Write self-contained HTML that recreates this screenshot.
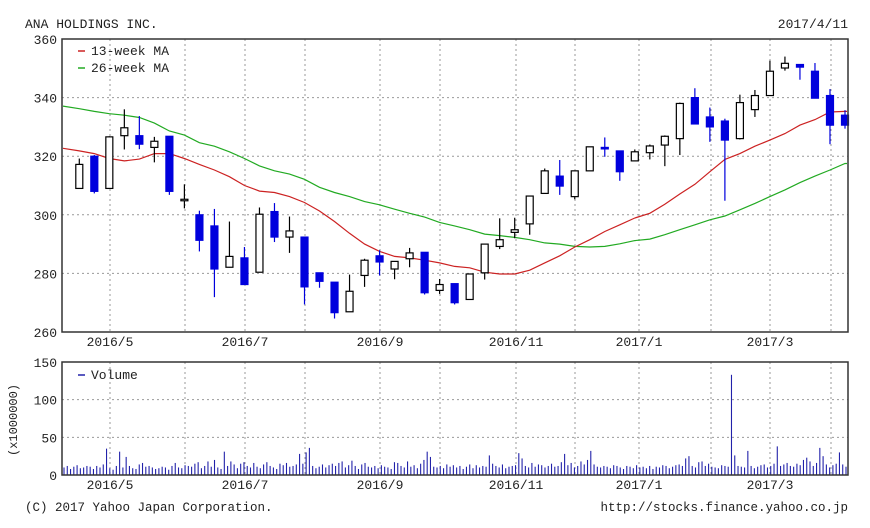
<!DOCTYPE html>
<html><head><meta charset="utf-8">
<style>
html,body{margin:0;padding:0;background:#fff;}
svg{display:block;font-family:"Liberation Mono","DejaVu Sans Mono",monospace;}
</style></head>
<body>
<svg id="chart" width="870" height="528" viewBox="0 0 870 528" xmlns="http://www.w3.org/2000/svg">
<rect width="870" height="528" fill="#fff"/>
<text x="25" y="28" font-size="13" fill="#222">ANA HOLDINGS INC.</text>
<text x="848" y="28" font-size="13" fill="#222" text-anchor="end">2017/4/11</text>
<g id="price"></g>
<g id="vol"></g>
<text transform="translate(17,420) rotate(-90)" font-size="12" fill="#222" text-anchor="middle">(x1000000)</text>
<text x="25" y="511" font-size="12.5" fill="#222">(C) 2017 Yahoo Japan Corporation.</text>
<text x="848" y="511" font-size="12.5" fill="#222" text-anchor="end">http://stocks.finance.yahoo.co.jp</text>
</svg>
<script>
const opens  = [309,320,309,327,327,323,326.8,305,300,296.2,282.1,285.3,280.4,301.1,292.4,292.4,280.2,277,266.9,279.3,286,281.5,285,287.2,274.2,276.5,271.1,280.2,289.2,294,296.9,307.3,313.2,306.2,315,323,321.8,318.4,321.2,323.8,326,340,333.4,332,326,335.9,340.7,350.1,351.3,349,340.7,334];
const closes = [317.2,308,326.6,329.7,324.1,325.1,308,305.3,291.3,281.5,285.8,276.2,300.2,292.4,294.5,275.4,277.3,266.6,273.9,284.5,283.9,284.1,287,273.4,276.2,270,279.8,290,291.5,294.9,306.4,315,309.8,315,323.2,322.6,314.7,321.5,323.5,326.8,338,331,330,325.5,338.3,340.7,349,351.7,350.4,339.8,330.6,330.6];
const highs  = [319.2,320.4,326.8,336,333.7,326.6,326.8,310.4,301.4,302,297.7,289,302.5,304,299.4,292.4,280.2,277,279.6,285,287.9,284.1,288.7,287.2,278.1,276.5,279.8,290,298.8,299,306.4,315.8,318.7,315,323.2,326.4,321.8,322.3,324,327.1,338.3,343.2,336.6,332.8,341,342.6,352.6,354,351.3,351.8,342.9,335.7];
const lows   = [309,307.3,309,322.3,322.4,317.9,306.8,302.2,287.5,271.9,282,276.2,280.4,290.7,287,269.4,275.1,264.6,266.9,275.4,279.3,278,282.1,272.8,273,269.4,271.1,277.9,288.3,292,293.2,307.3,306.8,305.3,315,319.8,311.6,318.4,318.9,316.6,320.4,331,324.9,304.8,325.7,333.4,340.7,349.2,346.1,339.8,324.1,329.4];
const ma13 = [321.8,320.9,319.2,318.4,319.0,320.9,320.9,319.2,317.2,315.3,313.0,310.0,308.1,307.6,306.2,304.2,301.3,297.7,293.7,290.0,287.5,285.8,285.3,284.5,283.6,282.4,281.9,280.4,279.8,279.8,281.1,283.6,286.0,289.0,291.5,294.3,296.6,298.9,300.5,303.6,307.1,310.4,314.7,318.9,320.9,323.4,325.5,327.7,330.6,332.5,335.1,335.3];
const ma26 = [336.2,335.3,334.5,334.0,333.2,331.3,328.6,327.2,324.6,323.4,321.5,319.2,316.7,315.0,313.9,312.1,309.4,307.6,306.2,304.5,303.4,301.9,300.5,299.2,297.4,296.2,294.9,293.4,292.9,292.3,291.5,290.4,290.0,289.2,289.0,289.2,290.1,291.2,291.7,293.2,294.9,296.6,298.3,299.6,301.7,303.9,306.2,308.5,311.0,313.2,315.3,317.5];
const volumes = [10,12,8,11,13,9,10,12,11,8,12,10,14,35,9,7,12,31,10,24,
12,9,8,14,16,11,12,10,8,9,11,10,7,12,16,10,9,13,12,11,
15,17,9,12,18,11,20,10,8,31,12,18,14,9,15,17,12,10,16,11,
9,14,17,12,10,8,15,13,16,11,12,14,28,15,30,36,12,9,11,14,
10,13,15,12,16,18,10,13,19,12,8,14,16,11,10,12,9,13,11,10,
8,17,16,12,10,18,11,13,9,15,20,31,24,11,10,12,9,14,11,13,
10,12,8,11,14,9,13,10,12,11,26,15,12,10,14,9,11,12,13,29,
22,12,10,16,11,14,13,10,12,15,11,12,17,28,13,16,10,12,18,14,
20,32,14,11,10,12,11,9,13,12,10,8,12,11,9,13,10,11,9,12,
8,11,10,13,12,9,11,13,14,12,22,25,12,10,17,18,12,15,11,10,
9,13,12,11,133,26,12,11,10,32,12,9,11,13,14,10,12,15,38,12,
14,16,12,11,15,13,20,23,18,12,16,36,25,14,10,13,15,30,14,11];
const priceTicks = [260,280,300,320,340,360];
const volTicks = [0,50,100,150];
const monthLabels = ["2016/5","2016/7","2016/9","2016/11","2017/1","2017/3"];
const monthGridX = [110,185,245,305,380,440,516,575,639,711,770,831];
const labelGridX = [110,245,380,516,639,770];

const NS="http://www.w3.org/2000/svg";
const L=62,R=848;
const pT=39,pB=332,vT=362,vB=475;
const py=v=>pB-(v-260)/100*(pB-pT);
const vy=v=>vB-v/150*(vB-vT);
const cx=i=>79.3+i*(845-79.3)/(opens.length-1);
const vx=i=>64+i*(846-64)/(volumes.length-1);
function mk(parent,tag,attrs){const e=document.createElementNS(NS,tag);for(const k in attrs)e.setAttribute(k,attrs[k]);parent.appendChild(e);return e;}
const P=document.getElementById('price'),V=document.getElementById('vol');

function panel(g,top,bot,ticks,yf,name){
  ticks.forEach(t=>{const y=yf(t);
    if(t!==ticks[0]&&t!==ticks[ticks.length-1]){const gl=mk(g,'line',{x1:L,x2:R,y1:y,y2:y,stroke:'#999','stroke-dasharray':'2,3'});
      
      }
    const tx=mk(g,'text',{x:57,y:y+5,'font-size':13,'text-anchor':'end',fill:'#222'});tx.textContent=t;
    
    
  });
  monthGridX.forEach(x=>{const gl=mk(g,'line',{x1:x,x2:x,y1:top,y2:bot,stroke:'#999','stroke-dasharray':'2,3'});
    
    
  });
  monthLabels.forEach((m,i)=>{const tx=mk(g,'text',{x:labelGridX[i],y:bot+14,'font-size':13,'text-anchor':'middle',fill:'#222'});tx.textContent=m;
    
    
  });
}
panel(P,pT,pB,priceTicks,py,'price');
panel(V,vT,vB,volTicks,vy,'volume');

function maLine(arr,color,name){
  const pts=arr.map((v,i)=>cx(i).toFixed(1)+','+py(v).toFixed(1));
  const first=py(arr[0]+(arr[0]-arr[1])),last=py(arr[arr.length-1]);
  pts.unshift(L+1+','+first.toFixed(1));pts.push((R-1)+','+last.toFixed(1));
  const pl=mk(P,'polyline',{points:pts.join(' '),fill:'none',stroke:color,'stroke-width':1.2});
  
  
}
maLine(ma26,'#22aa22','ma26-line');
maLine(ma13,'#cc2222','ma13-line');

opens.forEach((o,i)=>{
  const c=closes[i],x=cx(i),up=c>=o,col=up?'#000':'#0000dd';
  const g=mk(P,'g',{});
  
  
  mk(g,'line',{x1:x,x2:x,y1:py(highs[i]),y2:py(lows[i]),stroke:col,'stroke-width':1.2});
  const top=py(Math.max(o,c)),h=Math.max(1.5,py(Math.min(o,c))-top);
  mk(g,'rect',{x:x-3.5,y:top,width:7,height:h,fill:up?'#fff':'#0000dd',stroke:col,'stroke-width':1.2});
});

volumes.forEach((v,i)=>{const x=vx(i);
  const b=mk(V,'line',{x1:x,x2:x,y1:vB,y2:vy(v),stroke:'#2222aa','stroke-width':1.1});
  
  
});

[[pT,pB],[vT,vB]].forEach(([t,b])=>{const f=mk(document.getElementById('chart'),'rect',{x:L,y:t,width:R-L,height:b-t,fill:'none',stroke:'#333','stroke-width':1.5});
  
  
});

// legends
function legend(g,y,color,label,name){
  const gg=mk(g,'g',{});
  
  
  mk(gg,'line',{x1:78,x2:85,y1:y-4,y2:y-4,stroke:color,'stroke-width':1.5});
  const t=mk(gg,'text',{x:91,y:y,'font-size':13,fill:'#222'});t.textContent=label;
}
legend(P,55,'#cc2222','13-week MA','legend-ma13');
legend(P,72,'#22aa22','26-week MA','legend-ma26');
legend(V,379,'#2222aa','Volume','legend-volume');
</script>
</body></html>
